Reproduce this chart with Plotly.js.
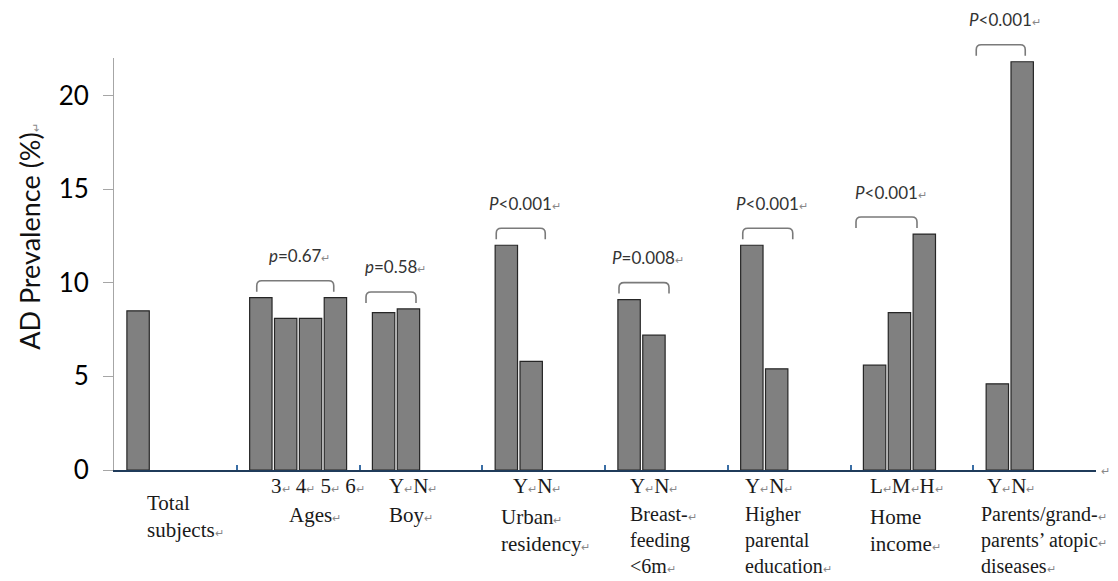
<!DOCTYPE html>
<html><head><meta charset="utf-8">
<script src="https://cdn.plot.ly/plotly-3.0.1.min.js"></script>
<style>html,body{margin:0;padding:0;background:#fff;}#chart{width:1118px;height:581px;}</style>
</head><body><div id="chart"></div>
<script>
// ---- data ----
const categories = ["Total subjects","Ages","Boy","Urban residency","Breast-feeding <6m","Higher parental education","Home income","Parents/grand-parents' atopic diseases"];
const series1 = [8.5, 9.2, 8.4, 12.0, 9.1, 12.0, 5.6, 4.6];
const series2 = [null, 8.1, 8.6, 5.8, 7.2, 5.4, 8.4, 21.8];
const series3 = [null, 8.1, null, null, null, null, 12.6, null];
const series4 = [null, 9.2, null, null, null, null, null, null];
const levelLabels = [[], ["3","4","5","6"], ["Y","N"], ["Y","N"], ["Y","N"], ["Y","N"], ["L","M","H"], ["Y","N"]];
const groupNames = [["Total","subjects↵"], ["Ages↵"], ["Boy↵"], ["Urban↵","residency↵"], ["Breast-↵","feeding","&lt;6m↵"], ["Higher","parental","education↵"], ["Home","income↵"], ["Parents/grand-↵","parents’ atopic↵","diseases↵"]];
const pLetters = [null, "p", "p", "P", "P", "P", "P", "P"];
const pTexts = [null, "=0.67", "=0.58", "&lt;0.001", "=0.008", "&lt;0.001", "&lt;0.001", "&lt;0.001"];
const yTickVals = [0, 5, 10, 15, 20];
const yTitle = "AD Prevalence (%)";

// ---- styling ----
const YMAX = 22;
const NCAT = categories.length;
const RET = '<span style="font-size:11px;color:#888">↵</span>';
const ret = s => s.replace(/↵/g, RET);
const bracketPx = [null, [20,97], [6.5,56.5], [14,63], [14,64], [15,65], [5.5,66.5], [3,52]];
const rowDx = [0, 32, 27.5, 29, 23, 15, 17.5, 12];
const rowSep = [RET, RET + ' ', RET, RET, RET, RET, RET, RET];
const nameDx = [31, 50, 27.5, 17, 23, 15, 17.5, 6];
const nameTop = [-19, -31, -31, -33, -31, -31, -33, -31];
const nameSize = [21, 21, 21, 21, 20, 20, 21, 20];

const mk = {color:'#808080', line:{color:'#262626', width:1.2}};
const traces = [series1, series2, series3, series4].map((s,k)=>({
  type:'bar', x: categories, y: s, marker: mk, name:'s'+(k+1), hoverinfo:'y', showlegend:false
}));

const annotations = [];
const shapes = [];
const serifFam = 'Liberation Serif, Times New Roman, serif';
const serif = {family:serifFam, size:21, color:'#1a1a1a'};

categories.forEach((c,i)=>{
  if (levelLabels[i].length) {
    annotations.push({xref:'paper', yref:'paper', x:i/NCAT, y:0, xanchor:'left', yanchor:'top',
      xshift:rowDx[i], yshift:-2, showarrow:false, align:'left', font:serif,
      text: levelLabels[i].join(rowSep[i]) + RET});
  }
  annotations.push({xref:'paper', yref:'paper', x:i/NCAT, y:0, xanchor:'left', yanchor:'top',
    xshift:nameDx[i], yshift:nameTop[i], showarrow:false, align:'left',
    font:{family:serifFam, size:nameSize[i], color:'#1a1a1a'},
    text: groupNames[i].map(ret).join('<br>')});
  if (bracketPx[i]) {
    const vals = [series1[i],series2[i],series3[i],series4[i]].filter(v=>v!=null);
    const mx = Math.max(...vals);
    const [a,b] = bracketPx[i];
    const r = 5, top = 17, leg = 6;
    shapes.push({type:'path', xref:'paper', yref:'paper', xsizemode:'pixel', ysizemode:'pixel',
      xanchor:i/NCAT, yanchor:mx/YMAX,
      path:`M${a},${leg} L${a},${top-r} Q${a},${top} ${a+r},${top} L${b-r},${top} Q${b},${top} ${b},${top-r} L${b},${leg}`,
      line:{color:'#7a7a7a', width:1.6}});
    annotations.push({xref:'paper', yref:'paper', x:i/NCAT, y:mx/YMAX, xanchor:'center', yanchor:'middle',
      xshift:(a+b)/2 + 4, yshift:top+25, showarrow:false,
      font:{family:'Lato, Open Sans, sans-serif', size:17, color:'#333'},
      text:'<i>'+pLetters[i]+'</i>'+pTexts[i]+RET});
  }
});

annotations.push({xref:'paper', yref:'paper', x:-0.0855, y:0.566, xanchor:'center', yanchor:'middle',
  textangle:-90, showarrow:false, font:{family:'Lato, Open Sans, sans-serif', size:27, color:'#111'},
  text: yTitle + RET});
annotations.push({xref:'paper', yref:'paper', x:1, y:0, xanchor:'left', yanchor:'middle', xshift:3, yshift:0,
  showarrow:false, text:RET});

const layout = {
  width:1118, height:581,
  margin:{l:114, r:22, t:58, b:111},
  paper_bgcolor:'#fff', plot_bgcolor:'#fff',
  barmode:'group', bargap:0.19, bargroupgap:0.1,
  xaxis:{type:'category', range:[-0.5, NCAT-0.5], showline:true, linecolor:'#1f3b5a', linewidth:2,
    ticks:'inside', tickson:'boundaries', ticklen:5, tickcolor:'#3a6ea5', tickwidth:2,
    showticklabels:false, showgrid:false, zeroline:false, fixedrange:true},
  yaxis:{range:[0, YMAX], tickvals:yTickVals, ticktext:yTickVals.map(String), showline:true, linecolor:'#a6a6a6', linewidth:1,
    ticks:'outside', ticklen:10, tickcolor:'#a6a6a6', ticklabelstandoff:9,
    tickfont:{family:'Lato, Open Sans, sans-serif', size:26, color:'#000'},
    showgrid:false, zeroline:false, fixedrange:true},
  annotations, shapes
};
Plotly.newPlot('chart', traces, layout, {displayModeBar:false, staticPlot:true});
</script>
</body></html>
